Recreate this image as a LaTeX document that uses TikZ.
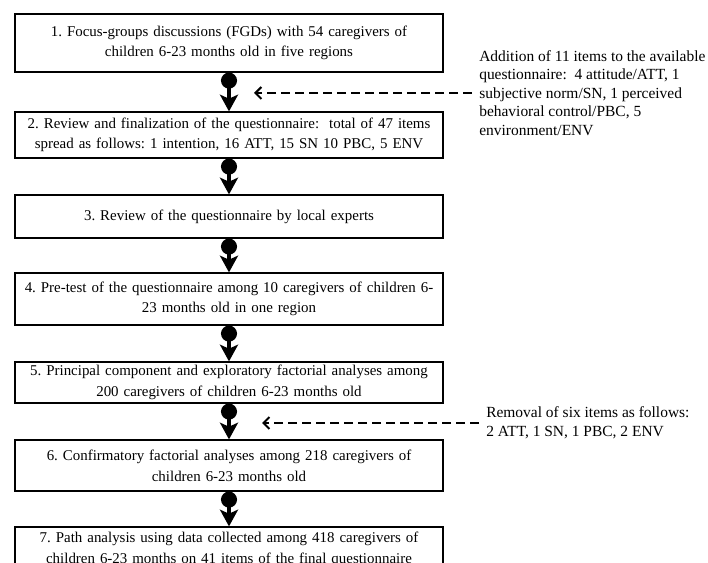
\documentclass[tikz,border=0pt]{standalone}
\usepackage{fontspec}
\setmainfont{Liberation Serif}
\usetikzlibrary{arrows.meta}
\newdimen\pxu \pxu=0.75pt
\frenchspacing

\begin{document}
\begin{tikzpicture}[x=0.75pt, y=-0.75pt,
    stage/.style={draw, line width=0.9pt, text width=420\pxu, inner xsep=4\pxu, inner ysep=0pt,
      align=center, font=\fontsize{11.2}{15.5}\selectfont},
    note/.style={inner xsep=7\pxu, inner ysep=0pt, anchor=west, align=left,
      font=\fontsize{11.6}{13.9}\selectfont},
    flow/.style={line width=2.4pt, {Circle[length=12pt,width=12pt]}-{Stealth[length=12.5pt,width=13.5pt,inset=3pt]}},
    dashlink/.style={line width=1.5pt, dash pattern=on 6.75pt off 3.75pt, -{Straight Barb[length=4.5pt,width=9pt]}}]
      \useasboundingbox (0,0) rectangle (708,563);
      \clip (0,0) rectangle (708,563);
      \node[name=s1, stage, minimum height=58\pxu] at (229,43) {1. Focus-groups discussions (FGDs) with 54 caregivers of\\children 6-23 months old in five regions};
      \node[name=s2, stage, minimum height=46\pxu] at (229,135) {2. Review and finalization of the questionnaire:\ \ total of 47 items\\spread as follows: 1 intention, 16 ATT, 15 SN 10 PBC, 5 ENV};
      \node[name=s3, stage, minimum height=43\pxu] at (229,216.5) {3. Review of the questionnaire by local experts};
      \node[name=s4, stage, minimum height=52\pxu] at (229,299) {4. Pre-test of the questionnaire among 10 caregivers of children 6-\\23 months old in one region};
      \node[name=s5, stage, minimum height=41\pxu] at (229,382.5) {5. Principal component and exploratory factorial analyses among\\200 caregivers of children 6-23 months old};
      \node[name=s6, stage, minimum height=51\pxu] at (229,465.5) {6. Confirmatory factorial analyses among 218 caregivers of\\children 6-23 months old};
      \node[name=s7, stage, minimum height=44\pxu] at (229,549) {7. Path analysis using data collected among 418 caregivers of\\children 6-23 months on 41 items of the final questionnaire};
      \draw[flow] (s1) -- (s2);
      \draw[flow] (s2) -- (s3);
      \draw[flow] (s3) -- (s4);
      \draw[flow] (s4) -- (s5);
      \draw[flow] (s5) -- (s6);
      \draw[flow] (s6) -- (s7);
      \node[name=n1, note] at (472,93) {Addition of 11 items to the available\\questionnaire:\ \ 4 attitude/ATT, 1\\subjective norm/SN, 1 perceived\\behavioral control/PBC, 5\\environment/ENV};
      \node[name=n2, note] at (479,423) {Removal of six items as follows:\\2 ATT, 1 SN, 1 PBC, 2 ENV};
      \coordinate (t1) at (254,93);
      \coordinate (t2) at (262,423);
      \draw[dashlink] (n1.west) -- (t1);
      \draw[dashlink] (n2.west) -- (t2);
\end{tikzpicture}
\end{document}
